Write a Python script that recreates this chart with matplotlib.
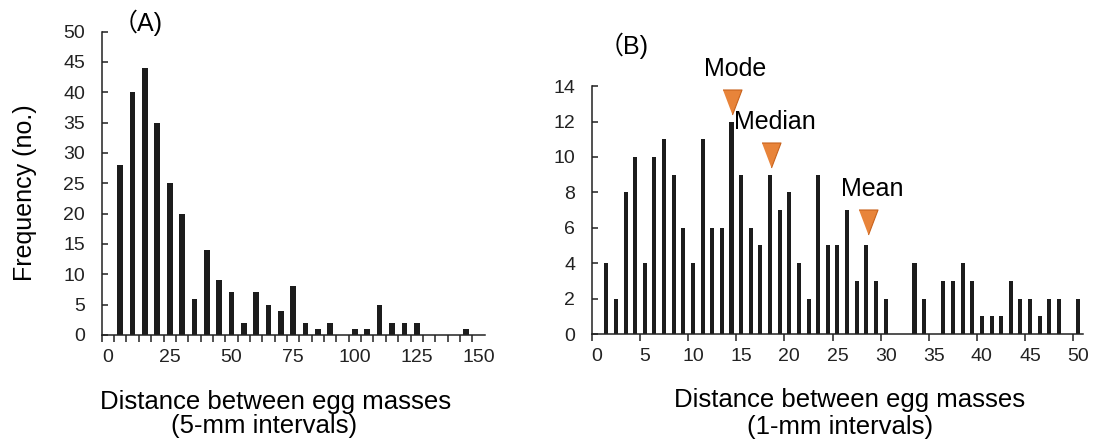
import matplotlib
matplotlib.use("Agg")
import matplotlib.pyplot as plt

plt.rcParams['font.family'] = ['Liberation Sans', 'Noto Sans CJK JP', 'DejaVu Sans']

# (A) 5-mm intervals
dist_a = [5, 10, 15, 20, 25, 30, 35, 40, 45, 50, 55, 60, 65, 70, 75, 80, 85, 90,
          95, 100, 105, 110, 115, 120, 125, 130, 135, 140, 145]
freq_a = [28, 40, 44, 35, 25, 20, 6, 14, 9, 7, 2, 7, 5, 4, 8, 2, 1, 2,
          0, 1, 1, 5, 2, 2, 2, 0, 0, 0, 1]

# (B) 1-mm intervals
dist_b = list(range(1, 51))
freq_b = [4, 2, 8, 10, 4, 10, 11, 9, 6, 4, 11, 6, 6, 12, 9, 6, 5, 9, 7, 8,
          4, 2, 9, 5, 5, 7, 3, 5, 3, 2, 0, 0, 4, 2, 0, 3, 3, 4, 3, 1,
          1, 1, 3, 2, 2, 1, 2, 2, 0, 2]

stat_names = ["Mode", "Median", "Mean"]
stat_values = [14, 18.1, 28.2]
marker_tops = [13.8, 10.8, 7.0]

bar_color = "#1c1c1c"
tri_color = "#e8843a"
tri_edge = "#c8621c"

fig = plt.figure(figsize=(10.94, 4.46), dpi=100)
ax1 = fig.add_axes([0.093, 0.249, 0.350, 0.680])
ax2 = fig.add_axes([0.541, 0.251, 0.449, 0.556])

for ax in (ax1, ax2):
    for s in ("top", "right"):
        ax.spines[s].set_visible(False)
    for s in ("left", "bottom"):
        ax.spines[s].set_linewidth(1.1)
        ax.spines[s].set_color("#222222")
    ax.tick_params(axis="y", direction="in", length=4, width=1.1, pad=12,
                   labelsize=14, colors="#222222")
    ax.tick_params(axis="x", which="both", direction="out", width=1.1,
                   labelsize=14, colors="#222222")

# panel A
ax1.bar(dist_a, freq_a, width=2.3, color=bar_color)
ax1.set_xlim(-2.5, 152.5)
ax1.set_ylim(0, 50)
ax1.set_yticks(range(0, 51, 5))
ax1.set_xticks(range(0, 151, 25))
ax1.tick_params(axis="x", which="major", length=0, pad=10)
ax1.set_xticks([x - 2.5 for x in range(0, 155, 5)], minor=True)
ax1.tick_params(axis="x", which="minor", length=5)
ax1.set_ylabel("Frequency (no.)", fontsize=18)
ax1.yaxis.set_label_coords(-0.17, 0.47)
ax1.text(0.095, 0.985, "（A)", transform=ax1.transAxes, fontsize=18, ha="center", va="bottom")
ax1.text(0.455, -0.22, "Distance between egg masses", transform=ax1.transAxes,
         fontsize=18.5, ha="center", va="center")
ax1.text(0.425, -0.30, "(5-mm intervals)", transform=ax1.transAxes,
         fontsize=18.5, ha="center", va="center")

# panel B
ax2.bar(dist_b, freq_b, width=0.42, color=bar_color)
ax2.set_xlim(-0.5, 50.5)
ax2.set_ylim(0, 14)
ax2.set_yticks(range(0, 15, 2))
ax2.set_xticks(range(0, 51, 5))
ax2.tick_params(axis="x", which="major", length=0, pad=10)
ax2.set_xticks([x - 0.5 for x in range(0, 51, 5)], minor=True)
ax2.tick_params(axis="x", which="minor", length=5)
ax2.text(0.065, 1.11, "（B)", transform=ax2.transAxes, fontsize=18, ha="center", va="bottom")
ax2.text(0.525, -0.266, "Distance between egg masses", transform=ax2.transAxes,
         fontsize=18.5, ha="center", va="center")
ax2.text(0.505, -0.374, "(1-mm intervals)", transform=ax2.transAxes,
         fontsize=18.5, ha="center", va="center")

tri = [(-0.38, 0.5), (0.38, 0.5), (0, -0.5)]
for name, xv, top in zip(stat_names, stat_values, marker_tops):
    ax2.plot(xv, top - 0.7, marker=tri, markersize=18, color=tri_color,
             markeredgecolor=tri_edge, markeredgewidth=0.8, clip_on=False)
    ax2.text(xv + 0.4, top + 0.5, name, fontsize=18, ha="center", va="bottom")

fig.savefig("out.png", dpi=100)
